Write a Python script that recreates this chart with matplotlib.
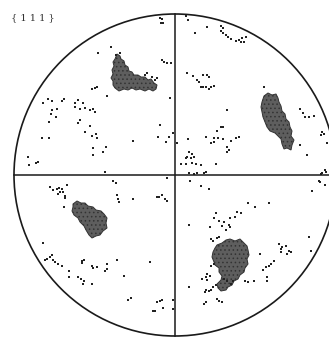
import numpy as np
import matplotlib
matplotlib.use("Agg")
import matplotlib.pyplot as plt
from matplotlib.patches import Circle, Polygon

# pole figure, coordinates in pixels (y down)
center = (175, 175)
radius = 161
label = "{ 1 1 1 }"

# dense pole clusters, outline vertices
cluster_ul = [(117, 54), (120, 56), (121, 59), (124, 61), (125, 65), (128, 67), (129, 71),
              (132, 72), (134, 75), (138, 75), (141, 77), (145, 77), (148, 80), (151, 79),
              (154, 83), (157, 85), (156, 89), (153, 91), (149, 89), (145, 91), (140, 89),
              (136, 90), (132, 88), (128, 90), (124, 89), (119, 91), (115, 88), (113, 85),
              (113, 81), (111, 78), (113, 74), (112, 70), (114, 66), (113, 62), (115, 59)]
cluster_ur = [(264, 96), (268, 93), (272, 95), (276, 94), (278, 98), (279, 102), (281, 106),
              (282, 111), (285, 114), (286, 119), (289, 122), (290, 127), (292, 131),
              (291, 136), (294, 140), (292, 145), (291, 150), (287, 148), (284, 149),
              (282, 144), (281, 139), (278, 136), (275, 133), (270, 131), (267, 127),
              (265, 122), (263, 117), (262, 112), (261, 107), (262, 102)]
cluster_ll = [(73, 204), (77, 201), (81, 203), (85, 203), (88, 206), (93, 207), (96, 210),
              (101, 211), (104, 214), (107, 218), (106, 223), (107, 228), (103, 231),
              (100, 235), (96, 236), (92, 238), (89, 235), (86, 230), (84, 226), (80, 222),
              (78, 218), (74, 215), (72, 211), (73, 207)]
cluster_lr = [(222, 243), (226, 240), (230, 239), (235, 241), (240, 239), (244, 243),
              (247, 246), (248, 250), (249, 255), (247, 259), (248, 264), (245, 268),
              (244, 272), (240, 275), (238, 279), (234, 281), (232, 285), (228, 287),
              (226, 290), (221, 291), (218, 288), (217, 284), (221, 280), (222, 276),
              (219, 272), (219, 268), (215, 265), (214, 262), (212, 257), (213, 252),
              (215, 248), (217, 245)]

# isolated poles
dots_ul = [(162, 19), (161, 23), (160, 18), (163, 23), (111, 47), (98, 53), (116, 55), (120, 53),
           (162, 60), (164, 62), (167, 63), (171, 63), (147, 73), (145, 75), (152, 77),
           (155, 80), (157, 78), (92, 89), (95, 88), (97, 87), (107, 96), (170, 98),
           (43, 103), (48, 99), (52, 101), (62, 101), (64, 99), (52, 110), (57, 109),
           (51, 114), (56, 117), (49, 122), (75, 103), (78, 100), (83, 103), (75, 107),
           (80, 109), (85, 108), (90, 110), (93, 109), (95, 112), (80, 120), (78, 123),
           (90, 126), (85, 132), (160, 125), (173, 133), (169, 137), (158, 137), (92, 136),
           (96, 134), (97, 138), (42, 138), (49, 138), (133, 141), (166, 142), (93, 148),
           (106, 147), (103, 152), (93, 155), (28, 157), (29, 165), (36, 163), (38, 162),
           (105, 172)]
dots_ur = [(186, 16), (188, 20), (207, 27), (195, 33), (221, 26), (223, 28), (221, 31),
           (223, 33), (226, 35), (228, 37), (231, 39), (236, 41), (239, 40), (242, 38),
           (246, 37), (241, 42), (244, 42), (187, 73), (193, 76), (197, 80), (199, 82),
           (203, 75), (207, 75), (209, 77), (201, 87), (203, 87), (206, 87), (209, 89),
           (211, 87), (214, 86), (264, 87), (227, 110), (300, 109), (303, 113), (305, 117),
           (309, 117), (314, 116), (221, 127), (223, 127), (217, 131), (188, 139), (206, 137),
           (214, 138), (218, 138), (223, 139), (231, 141), (236, 138), (239, 137), (211, 143),
           (214, 142), (227, 147), (229, 150), (227, 152), (177, 143), (322, 132), (321, 135),
           (324, 134), (300, 145), (327, 143), (307, 155), (189, 152), (192, 154), (187, 157),
           (191, 158), (194, 157), (186, 158), (181, 164), (186, 164), (192, 163), (196, 164),
           (201, 165), (216, 164), (189, 173), (194, 174), (197, 173), (204, 173), (206, 172),
           (321, 174), (326, 172), (322, 173), (325, 170)]
dots_ll = [(50, 187), (53, 190), (57, 189), (59, 188), (62, 189), (63, 192), (60, 192),
           (58, 194), (65, 196), (67, 185), (65, 198), (64, 207), (113, 181), (116, 183),
           (117, 195), (118, 199), (119, 202), (133, 199), (157, 197), (159, 197), (162, 195),
           (165, 199), (167, 201), (167, 178), (43, 243), (45, 260), (47, 259), (50, 257),
           (52, 255), (53, 260), (55, 262), (58, 264), (62, 266), (82, 261), (84, 260),
           (82, 263), (92, 266), (93, 268), (97, 267), (107, 264), (107, 269), (105, 271),
           (117, 260), (150, 262), (69, 271), (69, 277), (78, 277), (81, 279), (84, 281),
           (83, 284), (92, 284), (124, 276), (128, 300), (131, 298), (157, 302), (160, 301),
           (162, 300), (153, 311), (155, 311), (163, 308), (173, 300), (173, 309)]
dots_lr = [(190, 181), (201, 186), (209, 189), (320, 182), (325, 185), (319, 181), (312, 191),
           (248, 203), (255, 207), (269, 203), (237, 212), (241, 213), (235, 217), (230, 218),
           (216, 213), (214, 218), (219, 221), (224, 222), (222, 226), (229, 225), (230, 227),
           (226, 230), (210, 227), (189, 225), (309, 237), (311, 251), (279, 244), (282, 247),
           (286, 246), (281, 249), (289, 251), (287, 254), (291, 252), (281, 252), (260, 254),
           (274, 261), (271, 264), (269, 266), (266, 267), (263, 270), (267, 277), (267, 281),
           (254, 281), (248, 282), (245, 281), (211, 239), (213, 241), (217, 238), (219, 237),
           (214, 264), (211, 266), (207, 274), (210, 276), (206, 277), (202, 279), (207, 280),
           (189, 287), (216, 285), (213, 287), (211, 290), (209, 291), (205, 292), (206, 290),
           (217, 299), (219, 301), (222, 302), (204, 304), (206, 302), (224, 279), (227, 281),
           (233, 281), (231, 284)]

fig = plt.figure(figsize=(3.29, 3.37), dpi=100)
ax = fig.add_axes([0, 0, 1, 1])
ax.set_xlim(0, 329)
ax.set_ylim(337, 0)
ax.axis("off")

ax.add_patch(Circle(center, radius, fill=False, ec="#1a1a1a", lw=1.2))
cx, cy = center
ax.plot([cx, cx], [cy - radius, cy + radius], color="#1a1a1a", lw=1.1)
ax.plot([cx - radius, cx + radius], [cy, cy], color="#1a1a1a", lw=1.1)

plt.rcParams["hatch.linewidth"] = 0.6
for cl in [cluster_ul, cluster_ur, cluster_ll, cluster_lr]:
    ax.add_patch(Polygon(cl, closed=True, fc="#5e5e5e", ec="#333333", lw=0.7, hatch="...."))

for d in [dots_ul, dots_ur, dots_ll, dots_lr]:
    pts = np.array(d)
    ax.scatter(pts[:, 0], pts[:, 1], s=1.6, marker="s", color="#222222", lw=0)

ax.text(11, 18, label, fontsize=7, color="#333333", va="center", ha="left",
        family="DejaVu Serif")

fig.savefig("out.png", dpi=100)
